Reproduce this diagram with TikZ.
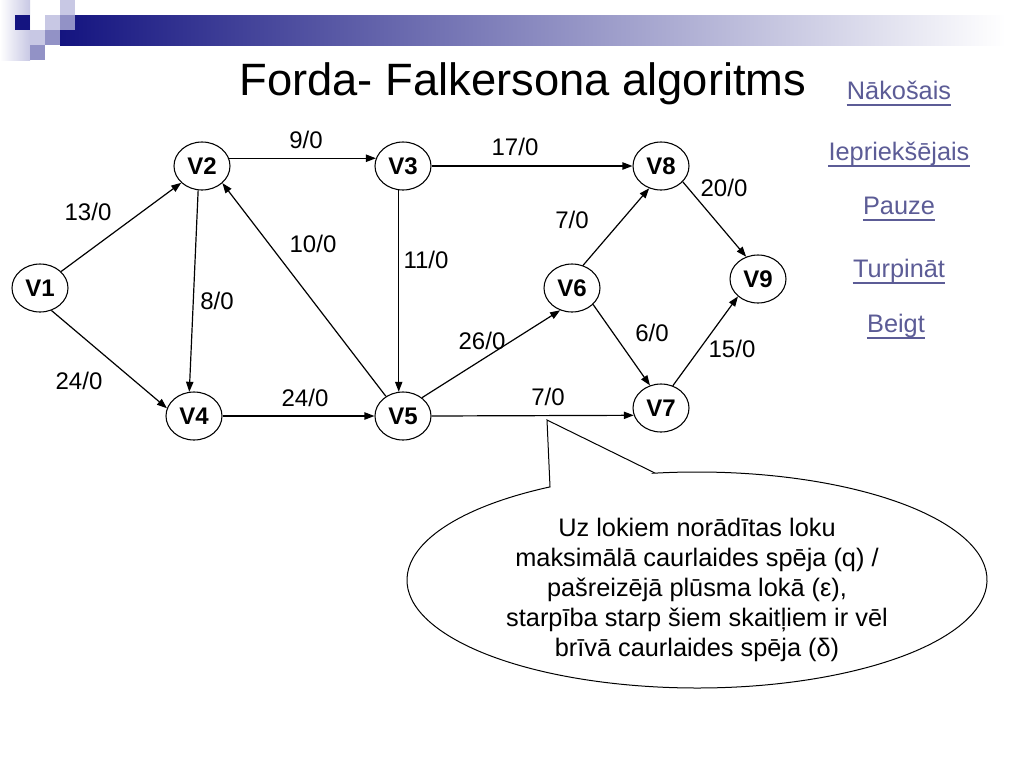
\documentclass[tikz,border=0pt]{standalone}
\usepackage{fontspec}
\setmainfont{Liberation Sans}
\usetikzlibrary{shapes.geometric,arrows.meta}
\definecolor{navyc}{RGB}{20,20,128}
\definecolor{barmid}{RGB}{140,140,178}
\definecolor{lav}{RGB}{200,200,228}
\definecolor{midlav}{RGB}{146,146,198}
\definecolor{linkc}{RGB}{92,92,150}
\begin{document}
\begin{tikzpicture}[x=0.75pt,y=-0.75pt,
  vert/.style={draw, ellipse, line width=0.8pt, minimum width=42pt, minimum height=36pt, inner sep=0pt, font=\fontsize{18}{20}\selectfont\bfseries},
  lbl/.style={inner sep=0pt, font=\fontsize{18}{20}\selectfont},
  edgeline/.style={line width=0.9pt, -{Triangle[length=7.5pt,width=5.5pt]}},
  link/.style={inner sep=0pt, anchor=base, text=linkc, font=\fontsize{19}{22}\selectfont},
  uline/.style={draw=linkc, line width=0.9pt}
]
\useasboundingbox (0,0) rectangle (1024,768);
\fill[white] (0,0) rectangle (1024,768);
% decoration
\shade[left color=white, right color=lav] (0,0) rectangle (30,60);
\shade[left color=navyc, middle color=barmid, right color=white] (60,15) rectangle (1005,45);
\fill[navyc] (15,15) rectangle (30,30);
\fill[lav] (30,30) rectangle (45,45);
\fill[midlav] (30,45) rectangle (45,60);
\fill[lav] (45,15) rectangle (60,30);
\fill[midlav] (45,30) rectangle (60,45);
\fill[lav] (60,0) rectangle (75,15);
\fill[midlav] (60,15) rectangle (75,30);
% title
\node[font=\fontsize{34}{40}\selectfont, anchor=base, inner sep=0pt] (title) at (523,95) {Forda- Falkersona algoritms};
% links
\node[link] (nak) at (899,99) {Nākošais};
\node[link] (iep) at (899,160) {Iepriekšējais};
\node[link] (pau) at (899,214) {Pauze\ };
\node[link] (tur) at (899,277) {Turpināt\ };
\node[link] (bei) at (896,332) {Beigt};
\foreach \n in {nak,iep,pau,tur,bei}{
  \draw[uline] ([yshift=-4.5pt]\n.base west) -- ([yshift=-4.5pt]\n.base east);
}
% vertices
\node[vert] (V1) at (40,288) {V1};
\node[vert] (V2) at (202,166) {V2};
\node[vert] (V3) at (403,166) {V3};
\node[vert] (V4) at (194,416) {V4};
\node[vert] (V5) at (403,416) {V5};
\node[vert] (V6) at (572,288) {V6};
\node[vert] (V7) at (661,408) {V7};
\node[vert] (V8) at (661,166) {V8};
\node[vert] (V9) at (758,279) {V9};
% edges
\draw[edgeline] (V1.38) -- (V2.219);
\draw[edgeline] (V1.-63) -- (V4.164);
\draw[edgeline] (V2.16) -- (V3.164);
\draw[edgeline] (V2.-99) -- (V4.101);
\draw[edgeline] (V5.131) -- (V2.-40);
\draw[edgeline] (V3.260) -- (V5.100);
\draw[edgeline] (V3.east) -- (V8.west);
\draw[edgeline] (V4.east) -- (V5.west);
\draw[edgeline] (V5.44) -- (V6.242);
\draw[edgeline] (V5.east) -- (V7.195);
\draw[edgeline] (V6.64) -- (V8.242);
\draw[edgeline] (V6.-38) -- (V7.116);
\draw[edgeline] (V8.-36) -- (V9.118);
\draw[edgeline] (V7.62) -- (V9.221);
% edge labels
\node[lbl] (l12) at (88,212) {13/0};
\node[lbl] (l14) at (79,381) {24/0};
\node[lbl] (l23) at (306,140) {9/0};
\node[lbl] (l24) at (217,301) {8/0};
\node[lbl] (l52) at (313,244) {10/0};
\node[lbl] (l35) at (426,260) {11/0};
\node[lbl] (l45) at (305,398) {24/0};
\node[lbl] (l38) at (515,147) {17/0};
\node[lbl] (l89) at (724,188) {20/0};
\node[lbl] (l68) at (572,220) {7/0};
\node[lbl] (l56) at (482,341) {26/0};
\node[lbl] (l67) at (652,333) {6/0};
\node[lbl] (l79) at (732,349) {15/0};
\node[lbl] (l57) at (548,397) {7/0};
% callout
\coordinate (tip) at (547,420);
\coordinate (cr) at (655.1,473.1);
\coordinate (cl) at (550.0,486.9);
\draw[line width=0.75pt, fill=white] (cr) -- (tip) -- (cl) arc[start angle=-120.46, end angle=-458.33, x radius=290, y radius=108] -- cycle;
\node[align=center, inner sep=0pt, font=\fontsize{19}{22.5}\selectfont] (note) at (697,590) {Uz lokiem norādītas loku\\maksimālā caurlaides spēja (q) /\\pašreizējā plūsma lokā (ε),\\starpība starp šiem skaitļiem ir vēl\\brīvā caurlaides spēja (δ)};
\end{tikzpicture}
\end{document}
